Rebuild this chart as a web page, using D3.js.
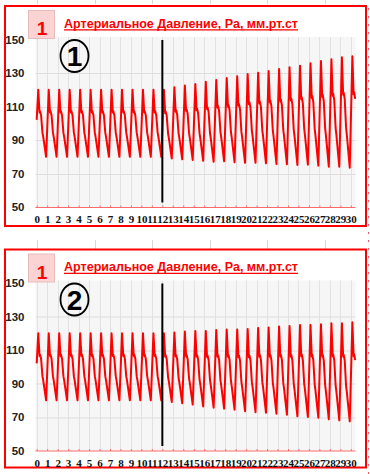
<!DOCTYPE html>
<html>
<head>
<meta charset="utf-8">
<script src="https://cdn.jsdelivr.net/npm/d3@7"></script>
<style>
  body { margin: 0; background: #fff; }
  svg { display: block; }
</style>
</head>
<body>
<div id="chart"></div>
<script>
// ---- data ----
const titleText = "Артериальное Давление, Ра, мм.рт.ст";
const xTickLabels = [0, 1, 2, 3, 4, 5, 6, 7, 8, 9, 10, 11, 12, 13, 14, 15, 16, 17, 18, 19, 20, 21, 22, 23, 24, 25, 26, 27, 28, 29, 30];
const yTickLabels = [50, 70, 90, 110, 130, 150];
const markerX = 12;

// one heartbeat: phase inside the beat and level between trough (0) and peak (1)
const beatPhase = [0.0, 0.15, 0.27, 0.32, 0.42, 0.55, 0.62, 0.9];
const beatLevel = [0.55, 1.0, 0.66, 0.68, 0.62, 0.36, 0.3, 0.0];

// systolic peaks / diastolic troughs per beat
const peaks1 = [120, 120, 120, 120, 120, 120, 120, 120, 120, 120, 120, 120, 120, 121.5, 122.5, 123.4, 124.8, 125.8, 127, 128, 129.4, 130.2, 131.2, 132.4, 133.4, 134.4, 135.8, 137.2, 138.2, 139.4, 140];
const troughs1 = [80, 80, 80, 80, 80, 80, 80, 80, 80, 80, 80, 80, 79, 78.5, 78.1, 77.6, 77.0, 77.3, 76.7, 76.4, 76.4, 76.1, 75.7, 75.5, 75.1, 75.3, 74.7, 74.1, 74.1, 73.5, 73];
const peaks2 = [120, 120, 120, 120, 120, 120, 120, 120, 120, 120, 120, 120, 120, 120.5, 121, 121.4, 121.4, 121.9, 122.3, 122.3, 122.6, 123.2, 123.5, 124.1, 124.3, 124.9, 125.0, 125.4, 125.9, 126.0, 126.6];
const troughs2 = [80, 80, 80, 80, 80, 80, 80, 80, 80, 80, 80, 80, 79, 78.2, 77.4, 76.3, 75.6, 75, 74.4, 73.5, 72.9, 72.6, 72, 71.4, 70.4, 70, 69.6, 68.6, 68, 67.4, 67];

const width = 370;
const height = 474;

const svg = d3
  .select("#chart")
  .append("svg")
  .attr("width", width)
  .attr("height", height);

// faint spreadsheet marks around the charts
[37, 95, 152, 210, 267, 325].forEach((x) => {
  svg.append("line").attr("x1", x + 0.5).attr("x2", x + 0.5).attr("y1", 0).attr("y2", 4)
    .attr("stroke", "#d8d8d8");
  svg.append("line").attr("x1", x + 0.5).attr("x2", x + 0.5).attr("y1", 240).attr("y2", 249)
    .attr("stroke", "#d8d8d8");
});
svg.append("line")
  .attr("x1", 368.5).attr("x2", 368.5).attr("y1", 8).attr("y2", 474)
  .attr("stroke", "#f06060").attr("stroke-dasharray", "2,6");

const buildWave = (peaks, troughs) => {
  const pts = [];
  peaks.forEach((p, i) => {
    const last = i === peaks.length - 1;
    beatPhase.forEach((ph, k) => {
      if (k === 0 && i > 0) return;
      if (last && ph > 0.42) return;
      pts.push({ x: i + ph, v: troughs[i] + (p - troughs[i]) * beatLevel[k] });
    });
  });
  return pts;
};

const drawPanel = (top, frameH, peaks, troughs, num) => {
  const g = svg.append("g").attr("transform", `translate(0,${top})`);

  const xScale = d3.scaleLinear().domain([0, 30]).range([36.7, 350.8]);
  const yScale = d3.scaleLinear().domain([50, 150]).range([207, 39.5]);

  // frame
  g.append("rect")
    .attr("x", 5).attr("y", 6).attr("width", 361).attr("height", frameH)
    .attr("fill", "#fff").attr("stroke", "#ff0000").attr("stroke-width", 2);

  // plot background
  g.append("rect")
    .attr("x", 35.5).attr("y", yScale(151.5))
    .attr("width", 320).attr("height", yScale(50) - yScale(151.5))
    .attr("fill", "#f6f6f6");

  // grid
  g.append("g")
    .selectAll("line")
    .data(xTickLabels)
    .join("line")
    .attr("x1", (d) => Math.round(xScale(d)) + 0.5)
    .attr("x2", (d) => Math.round(xScale(d)) + 0.5)
    .attr("y1", yScale(151.5))
    .attr("y2", yScale(50))
    .attr("stroke", "#e2e2e2");
  g.append("g")
    .selectAll("line")
    .data(yTickLabels.filter((d) => d > 50 && d < 150))
    .join("line")
    .attr("x1", 35.5).attr("x2", 355.5)
    .attr("y1", (d) => Math.round(yScale(d)) + 0.5)
    .attr("y2", (d) => Math.round(yScale(d)) + 0.5)
    .attr("stroke", "#dedede");

  // x axis
  const xAxis = d3.axisBottom(xScale)
    .tickValues(xTickLabels)
    .tickSize(-2)
    .tickPadding(8)
    .tickSizeOuter(0);
  const xAxisGroup = g.append("g")
    .attr("transform", `translate(0,${Math.round(yScale(50)) + 0.5})`)
    .call(xAxis);
  xAxisGroup.select(".domain").attr("stroke", "#ff6a6a").attr("d", "M35.5,0H355.5");
  xAxisGroup.selectAll(".tick line").attr("stroke", "#ff6a6a");
  xAxisGroup.selectAll(".tick text")
    .attr("fill", "#111")
    .style("font-family", "'Liberation Serif', 'Times New Roman', serif")
    .style("font-weight", "bold")
    .style("font-size", "11px");

  // y axis labels
  g.append("g")
    .selectAll("text")
    .data(yTickLabels)
    .join("text")
    .attr("x", 24.5)
    .attr("y", (d) => yScale(d))
    .attr("dy", "0.35em")
    .attr("text-anchor", "end")
    .attr("fill", "#222")
    .style("font-family", "'Liberation Sans', Arial, sans-serif")
    .style("font-weight", "bold")
    .style("font-size", "11.5px")
    .text((d) => d);

  // pressure wave
  const line = d3.line()
    .x((d) => xScale(d.x))
    .y((d) => yScale(d.v));
  g.append("path")
    .datum(buildWave(peaks, troughs))
    .attr("d", line)
    .attr("fill", "none")
    .attr("stroke", "#ff0000")
    .attr("stroke-width", 2)
    .attr("stroke-linejoin", "round");

  // marker line
  g.append("line")
    .attr("x1", xScale(markerX)).attr("x2", xScale(markerX))
    .attr("y1", 40).attr("y2", 202.5)
    .attr("stroke", "#000").attr("stroke-width", 2);

  // "1" box
  g.append("rect")
    .attr("x", 28.5).attr("y", 10.5).attr("width", 26).attr("height", 28)
    .attr("fill", "#fbd3d3").attr("stroke", "#e9bcbc");
  g.append("text")
    .attr("x", 42).attr("y", 35)
    .attr("text-anchor", "middle")
    .attr("fill", "#ff0000")
    .style("font-family", "'Liberation Sans', Arial, sans-serif")
    .style("font-weight", "bold")
    .style("font-size", "19px")
    .text("1");

  // title
  g.append("text")
    .attr("x", 64).attr("y", 27.5)
    .attr("fill", "#ff0000")
    .attr("textLength", 234)
    .attr("lengthAdjust", "spacingAndGlyphs")
    .style("font-family", "'Liberation Sans', Arial, sans-serif")
    .style("font-weight", "bold")
    .style("font-size", "13.5px")
    .text(titleText);
  g.append("line")
    .attr("x1", 64).attr("x2", 298).attr("y1", 29.8).attr("y2", 29.8)
    .attr("stroke", "#ff0000").attr("stroke-width", 1.2);

  // circled number
  g.append("ellipse")
    .attr("cx", 74.5).attr("cy", 56).attr("rx", 14).attr("ry", 16)
    .attr("fill", "none").attr("stroke", "#000").attr("stroke-width", 1.8);
  g.append("text")
    .attr("x", 74.5).attr("y", 66)
    .attr("text-anchor", "middle")
    .attr("fill", "#000")
    .style("font-family", "'Liberation Sans', Arial, sans-serif")
    .style("font-weight", "bold")
    .style("font-size", "28px")
    .text(num);
};

drawPanel(0, 220, peaks1, troughs1, "1");
drawPanel(243.5, 218, peaks2, troughs2, "2");
</script>
</body>
</html>
